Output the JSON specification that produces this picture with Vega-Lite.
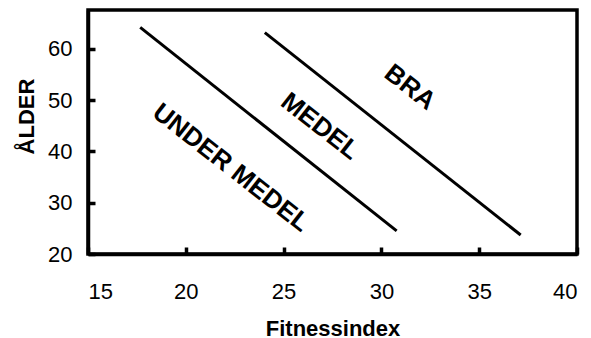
{
  "$schema": "https://vega.github.io/schema/vega-lite/v6.json",
  "width": 489,
  "height": 244,
  "autosize": {"type": "none"},
  "padding": {"left": 88, "top": 10, "right": 14, "bottom": 84},
  "background": "white",
  "config": {
    "font": "Liberation Sans",
    "view": {"stroke": "black", "strokeWidth": 3.5},
    "axis": {
      "grid": false,
      "domainColor": "black",
      "domainWidth": 3.5,
      "tickColor": "black",
      "tickWidth": 3.5,
      "tickSize": -7,
      "labelColor": "black",
      "labelFont": "Liberation Sans",
      "labelFontSize": 22,
      "titleColor": "black",
      "titleFont": "Liberation Sans",
      "titleFontSize": 22,
      "titleFontWeight": "bold"
    }
  },
  "layer": [
    {
      "data": {
        "values": [
          {"line": "a", "fitness": 17.67, "alder": 64.2},
          {"line": "a", "fitness": 30.78, "alder": 24.5},
          {"line": "b", "fitness": 24.04, "alder": 63.2},
          {"line": "b", "fitness": 37.12, "alder": 23.7}
        ]
      },
      "mark": {"type": "line", "color": "black", "strokeWidth": 3, "clip": true},
      "encoding": {
        "x": {
          "field": "fitness",
          "type": "quantitative",
          "scale": {"domain": [15, 40], "nice": false, "zero": false},
          "axis": {
            "title": "Fitnessindex",
            "values": [15, 20, 25, 30, 35, 40],
            "labelPadding": 34,
            "titleY": 81,
            "titleBaseline": "alphabetic"
          }
        },
        "y": {
          "field": "alder",
          "type": "quantitative",
          "scale": {"domain": [20, 67.6], "nice": false, "zero": false},
          "axis": {
            "title": "ÅLDER",
            "values": [20, 30, 40, 50, 60],
            "labelPadding": 23,
            "titleX": -62,
            "titleY": 106,
            "titleAngle": -90,
            "titleAlign": "center",
            "titleBaseline": "middle"
          }
        },
        "detail": {"field": "line", "type": "nominal"}
      }
    },
    {
      "data": {
        "values": [
          {"label": "UNDER MEDEL", "fitness": 22.31, "alder": 36.8},
          {"label": "MEDEL", "fitness": 26.86, "alder": 44.9},
          {"label": "BRA", "fitness": 31.46, "alder": 52.5}
        ]
      },
      "mark": {
        "type": "text",
        "angle": 38,
        "font": "Liberation Sans",
        "fontSize": 26,
        "fontWeight": "bold",
        "color": "black",
        "align": "center",
        "baseline": "middle"
      },
      "encoding": {
        "x": {"field": "fitness", "type": "quantitative"},
        "y": {"field": "alder", "type": "quantitative"},
        "text": {"field": "label", "type": "nominal"}
      }
    }
  ]
}
